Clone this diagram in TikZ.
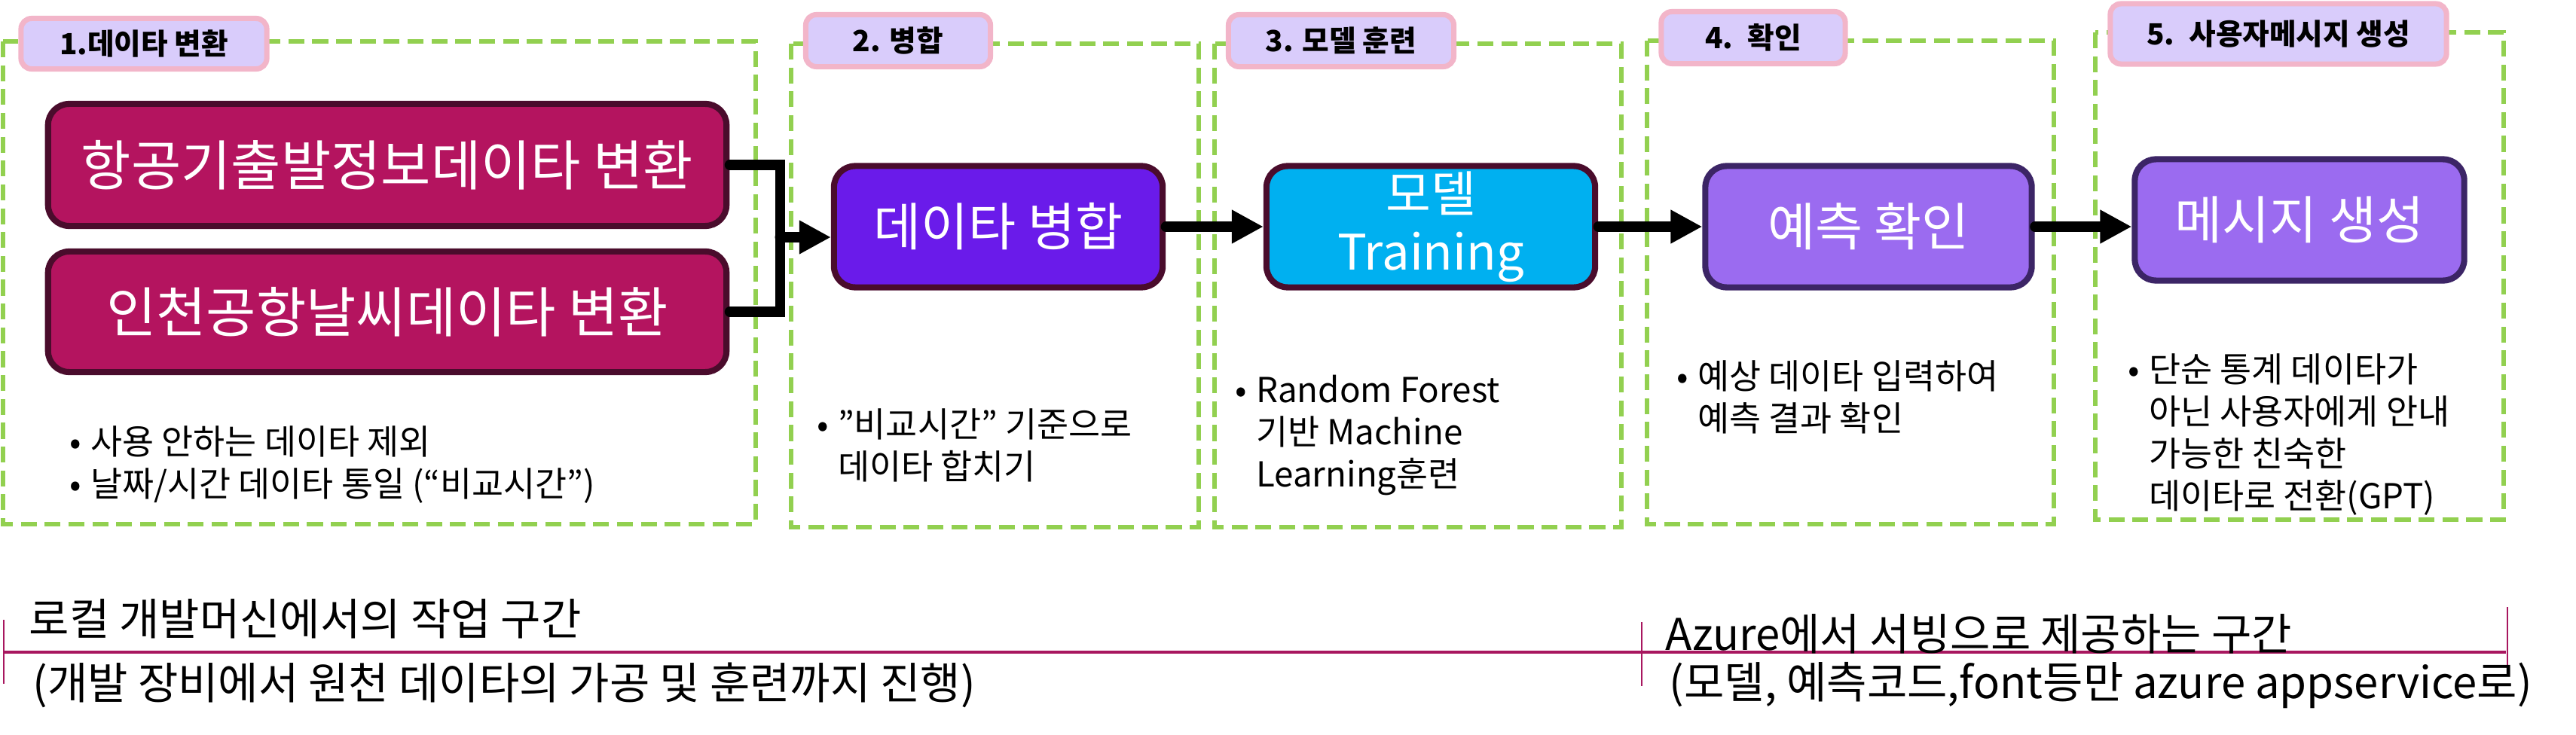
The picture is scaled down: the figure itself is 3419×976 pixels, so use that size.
\documentclass[tikz,border=0pt]{standalone}
\usepackage{fontspec}
\setmainfont{Noto Sans CJK KR}
\usetikzlibrary{arrows.meta,positioning,calc}
\definecolor{FlowGreen}{RGB}{146,208,80}
\definecolor{FlowPink}{RGB}{242,181,201}
\definecolor{FlowLavender}{RGB}{217,204,251}
\definecolor{FlowMagenta}{RGB}{180,20,95}
\definecolor{FlowMaroon}{RGB}{74,12,44}
\definecolor{FlowViolet}{RGB}{106,27,234}
\definecolor{FlowCyan}{RGB}{0,176,240}
\definecolor{FlowLilac}{RGB}{155,107,240}
\definecolor{FlowPlum}{RGB}{60,37,102}
\definecolor{FlowRule}{RGB}{168,23,95}
\tikzset{
  flow/zone/.style={
    draw=FlowGreen,
    line width=1.7pt,
    dash pattern=on 6pt off 3pt
  },
  flow/tab/.style={
    draw=FlowPink,
    line width=2pt,
    rounded corners=4pt,
    fill=FlowLavender,
    text=black,
    inner sep=0pt,
    font=\fontsize{11}{13}\selectfont\bfseries
  },
  flow/box/.style={
    draw=FlowMaroon,
    line width=2.3pt,
    rounded corners=8pt,
    align=center,
    text=white,
    inner sep=0pt,
    font=\fontsize{19.5}{22}\selectfont
  },
  flow/note/.style={anchor=north west, inner sep=0pt, font=\fontsize{13}{16}\selectfont},
  flow/spantext/.style={anchor=west, inner sep=0pt, font=\fontsize{16.5}{19}\selectfont},
  flow/arrow/.style={-{Triangle[length=0.42cm,width=0.42cm]}, line width=3.7pt, draw=black, line cap=round},
  flow/bracket/.style={line width=3.7pt, draw=black, line cap=round},
  flow/span/.style={draw=FlowRule, line width=1.4pt},
  flow/tick/.style={draw=FlowRule, line width=0.8pt}
}

\begin{document}
\begin{tikzpicture}[x=0.01cm,y=-0.01cm]
  \useasboundingbox (0,0) rectangle (3419,976);
  % stage frames
  \foreach \xa/\ya/\xb/\yb in {4/55/1003/696,1050/58/1591/700,1612/58/2152/700,2186/54/2726/696,2781/43/3323/690}{
    \draw[flow/zone] (\xa,\ya) rectangle (\xb,\yb);
  }
  % stage tabs
  \node[flow/tab,minimum width=3.26cm,minimum height=0.67cm] (tab1) at (191,58) {1.데이타 변환};
  \node[flow/tab,minimum width=2.45cm,minimum height=0.69cm] (tab2) at (1192,54) {2. 병합};
  \node[flow/tab,minimum width=2.99cm,minimum height=0.69cm] (tab3) at (1780,54) {3. 모델 훈련};
  \node[flow/tab,minimum width=2.44cm,minimum height=0.69cm] (tab4) at (2327,50) {4.\enspace 확인};
  \node[flow/tab,minimum width=4.46cm,minimum height=0.80cm] (tab5) at (3024,45) {5.\enspace 사용자메시지 생성};

  % process boxes
  \node[flow/box,fill=FlowMagenta,minimum width=9.00cm,minimum height=1.62cm,font=\fontsize{20.5}{24}\selectfont] (flightconv) at (514,219) {항공기출발정보데이타 변환};
  \node[flow/box,fill=FlowMagenta,minimum width=9.00cm,minimum height=1.60cm,font=\fontsize{20.5}{24}\selectfont] (weatherconv) at (514,414) {인천공항날씨데이타 변환};
  \node[flow/box,fill=FlowViolet,minimum width=4.36cm,minimum height=1.61cm] (merge) at (1325,301) {데이타 병합};
  \node[flow/box,fill=FlowCyan,minimum width=4.36cm,minimum height=1.61cm,font=\fontsize{18.5}{22}\selectfont] (train) at (1899,301) {모델\\Training};
  \node[flow/box,fill=FlowLilac,draw=FlowPlum,minimum width=4.33cm,minimum height=1.61cm] (predict) at (2480,301) {예측 확인};
  \node[flow/box,fill=FlowLilac,draw=FlowPlum,minimum width=4.37cm,minimum height=1.61cm] (message) at (3052,292) {메시지 생성};

  % connectors
  \coordinate (join) at (1035,315);
  \draw[flow/bracket] (flightconv.east) -| (join) |- (weatherconv.east);
  \draw[flow/arrow] (join) -- (join -| merge.west);
  \draw[flow/arrow] (merge.east) -- (train.west);
  \draw[flow/arrow] (train.east) -- (predict.west);
  \draw[flow/arrow] (predict.east) -- (predict.east -| message.west);

  % notes
  \node[flow/note] (noteconv) at (92,563) {\begin{tabular}{@{}l@{\hspace{0.12cm}}l@{}}•&사용 안하는 데이타 제외\\•&날짜/시간 데이타 통일 (“비교시간”)\end{tabular}};
  \node[flow/note] (notemerge) at (1084,540) {\begin{tabular}{@{}l@{\hspace{0.12cm}}l@{}}•&"비교시간" 기준으로\\&데이타 합치기\end{tabular}};
  \node[flow/note] (notetrain) at (1639,494) {\begin{tabular}{@{}l@{\hspace{0.12cm}}l@{}}•&Random Forest\\&기반 Machine\\&Learning훈련\end{tabular}};
  \node[flow/note] (notepredict) at (2225,476) {\begin{tabular}{@{}l@{\hspace{0.12cm}}l@{}}•&예상 데이타 입력하여\\&예측 결과 확인\end{tabular}};
  \node[flow/note] (notemessage) at (2824,467) {\begin{tabular}{@{}l@{\hspace{0.12cm}}l@{}}•&단순 통계 데이타가\\&아닌 사용자에게 안내\\&가능한 친숙한\\&데이타로 전환(GPT)\end{tabular}};

  % deployment spans
  \coordinate (spanL) at (5,866);
  \coordinate (spanM) at (2179,866);
  \coordinate (spanR) at (3326,866);
  \draw[flow/span] (spanL) -- (spanR);
  \draw[flow/tick] ($(spanL)+(0,-43)$) -- ($(spanL)+(0,42)$);
  \draw[flow/tick] ($(spanM)+(0,-40)$) -- ($(spanM)+(0,45)$);
  \draw[flow/tick] ($(spanR)+(2,-60)$) -- ($(spanR)+(2,17)$);
  \node[flow/spantext] (localtitle) at (38,822) {로컬 개발머신에서의 작업 구간};
  \node[flow/spantext] (localsub) at (43,910) {(개발 장비에서 원천 데이타의 가공 및 훈련까지 진행)};
  \node[flow/spantext] (azuretitle) at (2210,842) {Azure에서 서빙으로 제공하는 구간};
  \node[flow/spantext] (azuresub) at (2215,910) {(모델, 예측코드,font등만 azure appservice로)};
\end{tikzpicture}
\end{document}
